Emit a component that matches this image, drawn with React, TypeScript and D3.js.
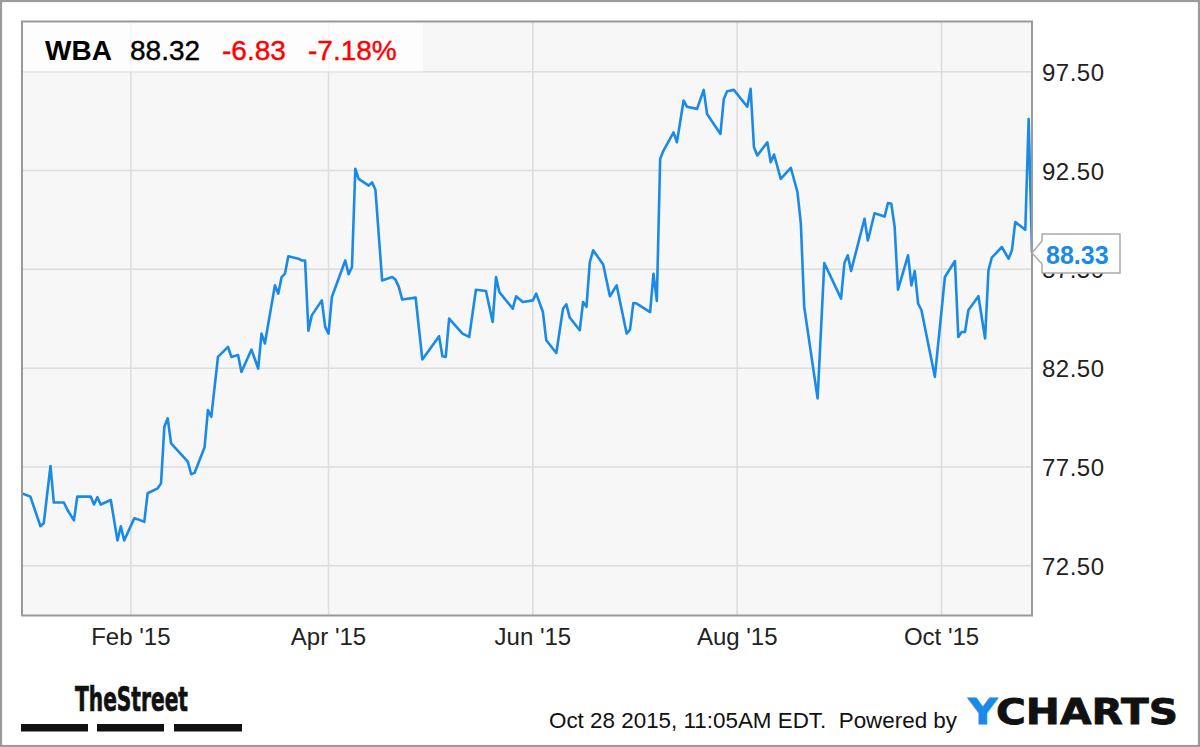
import React from "react";
import * as d3 from "d3";

// ---- Data ----
const dates: string[] = [
  "2014-12-30","2015-01-02","2015-01-05","2015-01-06","2015-01-08","2015-01-09","2015-01-12","2015-01-13",
  "2015-01-15","2015-01-16","2015-01-20","2015-01-21","2015-01-22","2015-01-23","2015-01-26","2015-01-28",
  "2015-01-29","2015-01-30","2015-02-02","2015-02-03","2015-02-05","2015-02-06","2015-02-09","2015-02-10",
  "2015-02-11","2015-02-12","2015-02-13","2015-02-18","2015-02-19","2015-02-20","2015-02-23","2015-02-24",
  "2015-02-25","2015-02-27","2015-03-02","2015-03-03","2015-03-05","2015-03-06","2015-03-09","2015-03-11",
  "2015-03-12","2015-03-13","2015-03-16","2015-03-17","2015-03-18","2015-03-19","2015-03-20","2015-03-23",
  "2015-03-24","2015-03-25","2015-03-26","2015-03-27","2015-03-30","2015-03-31","2015-04-01","2015-04-02",
  "2015-04-06","2015-04-07","2015-04-08","2015-04-09","2015-04-10","2015-04-13","2015-04-14","2015-04-15",
  "2015-04-17","2015-04-20","2015-04-21","2015-04-22","2015-04-23","2015-04-27","2015-04-29","2015-05-01",
  "2015-05-04","2015-05-05","2015-05-06","2015-05-07","2015-05-11","2015-05-13","2015-05-15","2015-05-18",
  "2015-05-20","2015-05-21","2015-05-22","2015-05-26","2015-05-27","2015-05-29","2015-06-01","2015-06-02",
  "2015-06-04","2015-06-05","2015-06-08","2015-06-10","2015-06-11","2015-06-12","2015-06-15","2015-06-16",
  "2015-06-17","2015-06-18","2015-06-19","2015-06-22","2015-06-24","2015-06-26","2015-06-29","2015-06-30",
  "2015-07-01","2015-07-02","2015-07-06","2015-07-07","2015-07-08","2015-07-09","2015-07-10","2015-07-13",
  "2015-07-14","2015-07-16","2015-07-17","2015-07-20","2015-07-22","2015-07-23","2015-07-27","2015-07-28",
  "2015-07-29","2015-07-31","2015-08-04","2015-08-05","2015-08-06","2015-08-07","2015-08-10","2015-08-11",
  "2015-08-12","2015-08-14","2015-08-17","2015-08-19","2015-08-20","2015-08-21","2015-08-25","2015-08-27",
  "2015-09-01","2015-09-02","2015-09-03","2015-09-04","2015-09-08","2015-09-09","2015-09-11","2015-09-14",
  "2015-09-15","2015-09-16","2015-09-17","2015-09-18","2015-09-21","2015-09-22","2015-09-23","2015-09-24",
  "2015-09-25","2015-09-29","2015-10-02","2015-10-05","2015-10-06","2015-10-07","2015-10-08","2015-10-09",
  "2015-10-12","2015-10-14","2015-10-15","2015-10-16","2015-10-19","2015-10-21","2015-10-22","2015-10-23",
  "2015-10-26","2015-10-27","2015-10-28",
];

const prices: number[] = [
  76.2,76.0,74.5,74.65,77.55,75.7,75.7,75.35,
  74.8,76.0,76.0,75.6,75.97,75.6,75.83,73.78,
  74.5,73.78,74.9,74.86,74.72,76.17,76.42,76.67,
  79.54,79.96,78.7,77.77,77.13,77.2,78.5,80.38,
  80.04,83.07,83.58,83.07,83.16,82.31,83.44,82.48,
  84.25,83.75,86.69,86.27,87.11,87.28,88.16,88.04,
  87.95,87.95,84.4,85.17,85.93,84.59,84.25,86.1,
  87.95,87.25,87.62,92.59,92.08,91.74,91.9,91.53,
  86.94,87.11,86.98,86.6,85.97,86.07,82.94,83.41,
  84.12,83.1,83.07,85.01,84.25,84.08,86.47,86.4,
  84.84,87.11,86.35,85.51,86.14,85.85,85.93,86.27,
  85.34,83.91,83.27,85.51,85.73,85.06,84.42,85.85,
  85.6,87.87,88.46,87.75,86.14,86.69,84.25,84.45,
  85.8,85.77,85.34,87.28,85.9,93.09,93.51,94.43,
  93.93,96.04,95.73,95.62,96.58,95.36,94.35,96.12,
  96.51,96.58,95.73,96.63,93.68,93.26,93.93,92.92,
  93.31,92.08,92.64,91.4,89.81,85.6,80.97,87.82,
  86.02,87.82,88.21,87.42,90.06,88.96,90.34,90.17,
  90.85,90.82,89.64,86.47,88.21,86.69,87.42,85.77,
  85.43,82.06,87.11,87.92,84.08,84.33,84.33,85.43,
  86.14,84.0,87.45,88.09,88.63,88.04,88.46,89.89,
  89.5,95.11,88.33,
];

const xTickDates: string[] = ["2015-02-01", "2015-04-01", "2015-06-01", "2015-08-01", "2015-10-01"];
const xTickLabels: string[] = ["Feb '15", "Apr '15", "Jun '15", "Aug '15", "Oct '15"];
const yTicks: number[] = [72.5, 77.5, 82.5, 87.5, 92.5, 97.5];

const ticker = "WBA";
const lastPrice = "88.32";
const change = "-6.83";
const changePct = "-7.18%";
const lastLabel = "88.33";
const footerText = "Oct 28 2015, 11:05AM EDT.\u00A0 Powered by";

// ---- Layout ----
const W = 1200;
const H = 747;
const plotL = 22;
const plotR = 1032;
const plotT = 21.5;
const plotB = 615.5;

const FONT = "'Liberation Sans', Arial, Helvetica, sans-serif";
const LINE_COLOR = "#1a8ae8";

export default function App() {
  const parse = d3.timeParse("%Y-%m-%d");
  const data = dates.map((d, i) => ({ date: parse(d) as Date, value: prices[i] }));

  const x = d3
    .scaleTime()
    .domain([new Date(2014, 11, 30, 12), new Date(2015, 9, 28)])
    .range([plotL, plotR]);
  const y = d3.scaleLinear().domain([70, 100]).range([615.2, 22.3]);

  const line = d3
    .line<{ date: Date; value: number }>()
    .x((d) => x(d.date))
    .y((d) => y(d.value));

  const lastY = y(prices[prices.length - 1]);

  return (
    <div style={{ position: "fixed", left: 0, top: 0, width: W, height: H }}>
      <svg width={W} height={H} style={{ display: "block" }} fontFamily={FONT}>
        <defs>
          <clipPath id="plotClip">
            <rect x={plotL} y={plotT} width={plotR - plotL} height={plotB - plotT} />
          </clipPath>
        </defs>
        <rect x={0} y={0} width={W} height={H} fill="#ffffff" />
        <rect x={1} y={1} width={W - 2} height={H - 2} fill="none" stroke="#9a9a9a" strokeWidth={2.2} />

        {/* plot background */}
        <rect x={plotL} y={plotT} width={plotR - plotL} height={plotB - plotT} fill="#f7f7f7" />

        {/* grid */}
        {yTicks.map((t) => (
          <line key={"gy" + t} x1={plotL} x2={plotR} y1={y(t)} y2={y(t)} stroke="#dcdcdc" strokeWidth={1.5} />
        ))}
        {xTickDates.map((t) => {
          const xx = x(parse(t) as Date);
          return <line key={"gx" + t} x1={xx} x2={xx} y1={plotT} y2={plotB} stroke="#dcdcdc" strokeWidth={1.5} />;
        })}

        {/* header box */}
        <rect x={plotL} y={plotT} width={401} height={50} fill="#ffffff" fillOpacity={0.75} />

        {/* price line */}
        <path
          d={line(data) || ""}
          fill="none"
          stroke={LINE_COLOR}
          strokeWidth={2.6}
          strokeLinejoin="round"
          clipPath="url(#plotClip)"
        />

        {/* plot border */}
        <rect x={plotL} y={plotT} width={plotR - plotL} height={plotB - plotT} fill="none" stroke="#999999" strokeWidth={2} />

        {/* header text */}
        <text x={45} y={60} fontSize={28} fontWeight="bold" fill="#000">{ticker}</text>
        <text x={130} y={60} fontSize={28} fill="#000" stroke="#000" strokeWidth={0.4}>{lastPrice}</text>
        <text x={222} y={60} fontSize={28} fill="#ff0000" stroke="#ff0000" strokeWidth={0.4}>{change}</text>
        <text x={308} y={60} fontSize={28} fill="#ff0000" stroke="#ff0000" strokeWidth={0.4}>{changePct}</text>

        {/* y axis labels */}
        {yTicks.map((t) => (
          <text key={"yl" + t} x={1042} y={y(t) + 9} fontSize={24} fill="#222" letterSpacing={0.5}>
            {d3.format(".2f")(t)}
          </text>
        ))}

        {/* x axis labels */}
        {xTickDates.map((t, i) => (
          <text key={"xl" + t} x={x(parse(t) as Date)} y={645} fontSize={24} fill="#222" textAnchor="middle">
            {xTickLabels[i]}
          </text>
        ))}

        {/* last value callout */}
        <path
          d={`M${plotR},${lastY} L1042,${lastY - 12} L1042,234 L1120,234 L1120,273 L1042,273 L1042,${lastY + 11} Z`}
          fill="#ffffff"
          stroke="#aaaaaa"
          strokeWidth={1.5}
        />
        <text x={1046} y={264} fontSize={25} fontWeight="bold" fill={LINE_COLOR}>{lastLabel}</text>

        {/* TheStreet logo */}
        <text
          x={75}
          y={711}
          fontSize={34}
          fontWeight="bold"
          fontFamily="'Liberation Sans Narrow', 'DejaVu Sans Condensed', sans-serif"
          fill="#111"
          stroke="#111"
          strokeWidth={0.7}
          textLength={113}
          lengthAdjust="spacingAndGlyphs"
        >
          TheStreet
        </text>
        <rect x={21} y={724} width={67} height={7.5} fill="#111" />
        <rect x={97} y={724} width={67} height={7.5} fill="#111" />
        <rect x={174} y={724} width={68} height={7.5} fill="#111" />

        {/* footer */}
        <text x={549} y={728} fontSize={22} fill="#111" textLength={408} lengthAdjust="spacingAndGlyphs">
          {footerText}
        </text>
        <text
          x={968}
          y={723.5}
          fontSize={35}
          fontWeight="bold"
          fontFamily="'DejaVu Sans', sans-serif"
          textLength={210}
          lengthAdjust="spacingAndGlyphs"
          fill="#111"
          stroke="#111"
          strokeWidth={0.8}
        >
          <tspan fill="#1a8ae8" stroke="#1a8ae8">Y</tspan>CHARTS
        </text>
      </svg>
    </div>
  );
}
